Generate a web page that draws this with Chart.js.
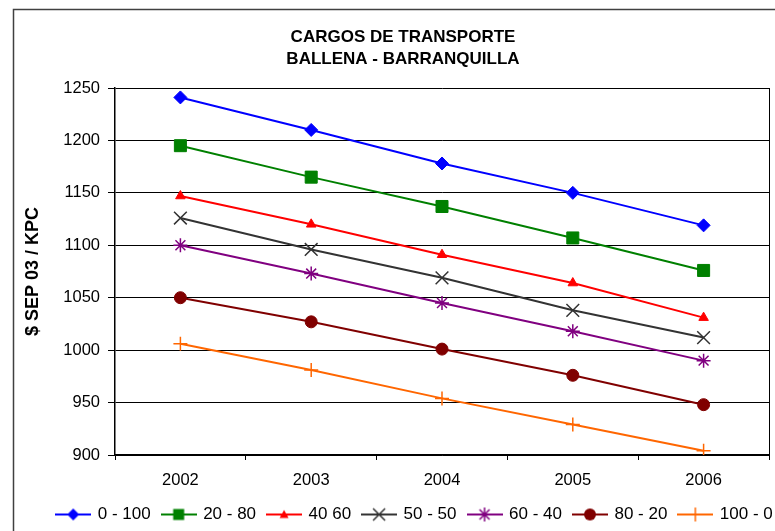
<!DOCTYPE html>
<html lang="es">
<head>
<meta charset="utf-8">
<title>Cargos de transporte Ballena - Barranquilla</title>
<script src="https://cdn.jsdelivr.net/npm/chart.js@4.4.1/dist/chart.umd.min.js"></script>
<style>
  html, body { margin: 0; padding: 0; background: #fff; overflow: hidden; }
  canvas { display: block; }
</style>
</head>
<body>
<canvas id="graficoCargos" width="806" height="545"></canvas>
<script>
// datos ($ SEP 03 / KPC)
const anios = ["2002", "2003", "2004", "2005", "2006"];
const etiquetasSeries = ["0 - 100", "20 - 80", "40 60", "50 - 50", "60 - 40", "80 - 20", "100 - 0"];

const cargos0_100 = [1241, 1210, 1178, 1150, 1119];
const cargos20_80 = [1195, 1165, 1137, 1107, 1076];
const cargos40_60 = [1147, 1120, 1091, 1064, 1031];
const cargos50_50 = [1126, 1096, 1069, 1038, 1012];
const cargos60_40 = [1100, 1073, 1045, 1018, 990];
const cargos80_20 = [1050, 1027, 1001, 976, 948];
const cargos100_0 = [1006, 981, 954, 929, 904];

const ejeYMin = 900;
const ejeYMax = 1250;
const ejeYPaso = 50;

const FUENTE = '"Liberation Sans", Arial, sans-serif';

// estilo de cada serie: color, marcador y tamano
const estilos = [
  { color: "#0000ff", forma: "rectRot", radio: 6.5 },
  { color: "#008000", forma: "rect", radio: 8.5 },
  { color: "#ff0000", forma: "triangle", radio: 5.5 },
  { color: "#333333", forma: "crossRot", radio: 9 },
  { color: "#800080", forma: "star", radio: 7 },
  { color: "#800000", forma: "circle", radio: 6 },
  { color: "#ff6600", forma: "cross", radio: 7 },
];

// imagen de la leyenda: linea con el marcador en el medio
function imagenLeyenda(color, forma) {
  const c = document.createElement("canvas");
  c.width = 36;
  c.height = 18;
  const ctx = c.getContext("2d");
  const x = 18;
  const y = 9;
  ctx.strokeStyle = color;
  ctx.fillStyle = color;
  ctx.lineWidth = 2;
  ctx.beginPath();
  ctx.moveTo(0, y);
  ctx.lineTo(36, y);
  ctx.stroke();
  ctx.lineWidth = 1.5;
  ctx.beginPath();
  switch (forma) {
    case "rectRot":
      ctx.moveTo(x, y - 6);
      ctx.lineTo(x + 6, y);
      ctx.lineTo(x, y + 6);
      ctx.lineTo(x - 6, y);
      ctx.closePath();
      ctx.fill();
      break;
    case "rect":
      ctx.fillRect(x - 5.5, y - 5.5, 11, 11);
      break;
    case "triangle":
      ctx.moveTo(x, y - 4.5);
      ctx.lineTo(x + 4.5, y + 3.5);
      ctx.lineTo(x - 4.5, y + 3.5);
      ctx.closePath();
      ctx.fill();
      break;
    case "crossRot":
      ctx.moveTo(x - 6, y - 6);
      ctx.lineTo(x + 6, y + 6);
      ctx.moveTo(x + 6, y - 6);
      ctx.lineTo(x - 6, y + 6);
      ctx.stroke();
      break;
    case "star":
      ctx.moveTo(x, y - 7);
      ctx.lineTo(x, y + 7);
      ctx.moveTo(x - 5, y - 5);
      ctx.lineTo(x + 5, y + 5);
      ctx.moveTo(x + 5, y - 5);
      ctx.lineTo(x - 5, y + 5);
      ctx.stroke();
      break;
    case "circle":
      ctx.arc(x, y, 6, 0, Math.PI * 2);
      ctx.fill();
      break;
    case "cross":
      ctx.moveTo(x, y - 7);
      ctx.lineTo(x, y + 7);
      ctx.stroke();
      break;
  }
  return c;
}

function crearSerie(etiqueta, valores, estilo) {
  const abierto = ["crossRot", "star", "cross"].includes(estilo.forma);
  return {
    label: etiqueta,
    data: valores,
    borderColor: estilo.color,
    backgroundColor: estilo.color,
    borderWidth: 2,
    tension: 0,
    pointStyle: estilo.forma,
    pointRadius: estilo.radio,
    pointHoverRadius: estilo.radio,
    pointBorderColor: estilo.color,
    pointBackgroundColor: estilo.color,
    pointBorderWidth: abierto ? 1.5 : 1,
    yAxisID: "y",
  };
}

const valoresSeries = [cargos0_100, cargos20_80, cargos40_60, cargos50_50, cargos60_40, cargos80_20, cargos100_0];
const series = valoresSeries.map((v, i) => crearSerie(etiquetasSeries[i], v, estilos[i]));
const imagenes = estilos.map((e) => imagenLeyenda(e.color, e.forma));

// marco exterior y pequeno ajuste de la leyenda (como en el original)
const marcoGrafico = {
  id: "marcoGrafico",
  afterLayout(chart) {
    chart.legend.left += 12;
    chart.legend.right += 12;
  },
  afterDraw(chart) {
    const ctx = chart.ctx;
    ctx.save();
    ctx.strokeStyle = "#404040";
    ctx.lineWidth = 1.5;
    ctx.strokeRect(13.5, 9.5, chart.width - 27, chart.height - 19);
    ctx.restore();
  },
};

new Chart(document.getElementById("graficoCargos"), {
  type: "line",
  data: { labels: anios, datasets: series },
  plugins: [marcoGrafico],
  options: {
    responsive: false,
    animation: false,
    events: [],
    layout: { padding: { left: 14, right: 14, top: 10, bottom: 12 } },
    plugins: {
      tooltip: { enabled: false },
      title: {
        display: true,
        text: ["CARGOS DE TRANSPORTE", "BALLENA - BARRANQUILLA"],
        color: "#000",
        font: { family: FUENTE, size: 17, weight: "bold", lineHeight: "22px" },
        padding: { top: 16, bottom: 18 },
      },
      legend: {
        position: "bottom",
        labels: {
          color: "#000",
          font: { family: FUENTE, size: 17 },
          usePointStyle: true,
          pointStyleWidth: 32,
          boxHeight: 17,
          padding: 12,
          generateLabels: (chart) =>
            chart.data.datasets.map((ds, i) => ({
              text: ds.label,
              pointStyle: imagenes[i],
              fillStyle: ds.borderColor,
              strokeStyle: ds.borderColor,
              fontColor: "#000",
              lineWidth: 0,
              hidden: false,
              datasetIndex: i,
            })),
        },
      },
    },
    scales: {
      x: {
        offset: true,
        grid: { drawOnChartArea: false, offset: true, tickLength: 5, color: "#000", tickColor: "#000" },
        border: { color: "#000", width: 1.5 },
        ticks: { color: "#000", font: { family: FUENTE, size: 16.5 }, padding: 11, maxRotation: 0 },
        afterFit: (s) => { s.height = 39; },
      },
      y: {
        min: ejeYMin,
        max: ejeYMax,
        grid: { color: "#000", lineWidth: 1, tickLength: 7, tickColor: "#000" },
        border: { color: "#000", width: 1.5 },
        ticks: {
          stepSize: ejeYPaso,
          color: "#000",
          font: { family: FUENTE, size: 16.5 },
          padding: 8,
          callback: (valor) => String(valor),
        },
        title: {
          display: true,
          text: "$ SEP 03 / KPC",
          color: "#000",
          font: { family: FUENTE, size: 18, weight: "bold" },
          padding: { top: 8, bottom: 0 },
        },
        afterFit: (s) => { s.width = 101; },
      },
      derecha: {
        type: "linear",
        position: "right",
        grid: { drawOnChartArea: false, drawTicks: false },
        border: { color: "#000", width: 1 },
        ticks: { display: false },
        afterFit: (s) => { s.width = 23; },
      },
    },
  },
});
</script>
</body>
</html>
